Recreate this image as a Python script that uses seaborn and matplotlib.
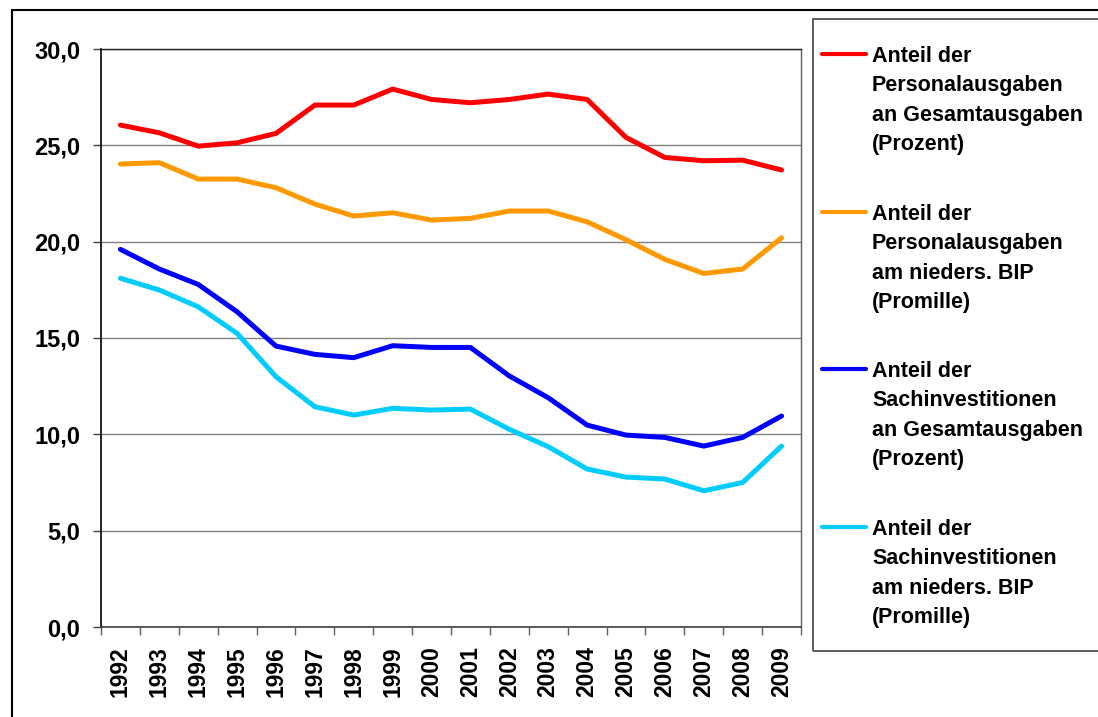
import pandas as pd
import matplotlib.pyplot as plt
import seaborn as sns
from matplotlib.patches import Rectangle
from matplotlib.lines import Line2D
from matplotlib.ticker import FixedLocator, FuncFormatter

# Data
years = list(range(1992, 2010))
personal_gesamt = [26.05, 25.65, 24.96, 25.13, 25.62, 27.09, 27.09, 27.92, 27.38, 27.21,
                   27.38, 27.66, 27.38, 25.41, 24.37, 24.2, 24.23, 23.72]
personal_bip = [24.03, 24.1, 23.25, 23.25, 22.8, 21.95, 21.33, 21.5, 21.12, 21.21,
                21.59, 21.59, 21.03, 20.1, 19.08, 18.35, 18.58, 20.2]
sach_gesamt = [19.6, 18.58, 17.78, 16.36, 14.58, 14.15, 13.98, 14.6, 14.51, 14.51,
               13.03, 11.9, 10.48, 9.96, 9.84, 9.39, 9.84, 10.95]
sach_bip = [18.1, 17.49, 16.62, 15.24, 12.99, 11.43, 11.0, 11.35, 11.26, 11.31,
            10.26, 9.36, 8.2, 7.78, 7.68, 7.07, 7.5, 9.39]

labels = [
    "Anteil der\nPersonalausgaben\nan Gesamtausgaben\n(Prozent)",
    "Anteil der\nPersonalausgaben\nam nieders. BIP\n(Promille)",
    "Anteil der\nSachinvestitionen\nan Gesamtausgaben\n(Prozent)",
    "Anteil der\nSachinvestitionen\nam nieders. BIP\n(Promille)",
]
colors = ["#FF0000", "#FF9900", "#0000FF", "#00CCFF"]

series = [personal_gesamt, personal_bip, sach_gesamt, sach_bip]
df = pd.concat(
    [pd.DataFrame({"Jahr": years, "Wert": vals, "Reihe": lab}) for lab, vals in zip(labels, series)],
    ignore_index=True,
)

sns.set_style("white")
plt.rcParams["font.family"] = ["Liberation Sans", "DejaVu Sans"]
plt.rcParams["font.weight"] = "bold"
plt.rcParams["text.color"] = "black"
plt.rcParams["xtick.color"] = "black"
plt.rcParams["ytick.color"] = "black"

W, H = 1098, 717
fig = plt.figure(figsize=(W / 100, H / 100), dpi=100)
ax = fig.add_axes([101 / W, (H - 627) / H, 700 / W, 578 / H])

sns.lineplot(data=df, x="Jahr", y="Wert", hue="Reihe", palette=colors, hue_order=labels,
             linewidth=3.6, legend=False, ax=ax, solid_capstyle="round", solid_joinstyle="round")

ax.set_xlim(1991.5, 2009.5)
ax.set_ylim(0, 30)
ax.set_xlabel("")
ax.set_ylabel("")

# y axis
ax.set_yticks(range(0, 31, 5))
ax.yaxis.set_major_formatter(FuncFormatter(lambda v, p: f"{v:.1f}".replace(".", ",")))
ax.tick_params(axis="y", which="major", direction="out", length=5.5, width=1, color="#404040",
               labelcolor="black", pad=9.5, labelsize=17, left=True)
for lab in ax.get_yticklabels():
    lab.set_fontweight("bold")
ax.yaxis.grid(True, color="#808080", linewidth=1.0)
ax.set_axisbelow(True)

# x axis: ticks between categories, labels on categories
ax.xaxis.set_major_locator(FixedLocator([y - 0.5 for y in years] + [2009.5]))
ax.xaxis.set_minor_locator(FixedLocator(years))
ax.set_xticklabels([])
ax.set_xticklabels([str(y) for y in years], minor=True, rotation=90, fontsize=16.5,
                   fontweight="bold", va="top", ha="center", color="black")
ax.tick_params(axis="x", which="major", direction="out", length=6, width=1, color="#606060", bottom=True)
ax.tick_params(axis="x", which="minor", length=0, pad=14)

for side in ["left", "bottom", "top", "right"]:
    ax.spines[side].set_visible(True)
ax.spines["left"].set_color("black")
ax.spines["left"].set_linewidth(1.2)
ax.spines["bottom"].set_color("#404040")
ax.spines["bottom"].set_linewidth(1.2)
ax.spines["top"].set_color("#202020")
ax.spines["top"].set_linewidth(1.0)
ax.spines["right"].set_color("#606060")
ax.spines["right"].set_linewidth(1.0)

# outer chart frame
fig.add_artist(Rectangle((12 / W, -0.1), 1.2, (H - 10) / H + 0.1, transform=fig.transFigure,
                         fill=False, edgecolor="black", linewidth=1.5, clip_on=False))

# legend box
fig.add_artist(Rectangle((813 / W, (H - 651) / H), 1.0, 632 / H, transform=fig.transFigure,
                         fill=False, edgecolor="#404040", linewidth=1.2, clip_on=False))
handle_y = [54, 212, 369, 527]
top_y = [46, 204, 361, 519]
for lab, col, hy, ty in zip(labels, colors, handle_y, top_y):
    fig.add_artist(Line2D([822 / W, 866 / W], [(H - hy) / H] * 2, transform=fig.transFigure,
                          color=col, linewidth=3.0, solid_capstyle="round"))
    fig.text(872 / W, (H - ty) / H, lab, fontsize=15.5, fontweight="bold", va="top",
             ha="left", linespacing=1.53, color="black")

plt.savefig("out.png", dpi=100)
plt.close()
